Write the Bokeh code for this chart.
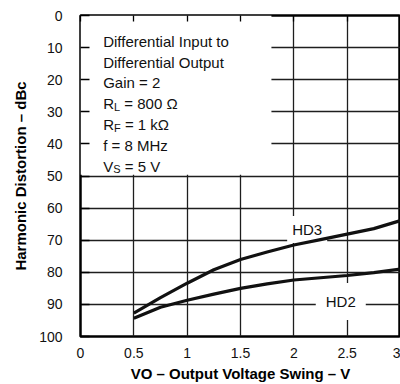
from bokeh.plotting import figure
from bokeh.models import Range1d, FixedTicker, LinearAxis, Label, BoxAnnotation
from bokeh.embed import file_html
from bokeh.resources import INLINE

# ---- data ----
vo = [0.5, 0.75, 1.0, 1.25, 1.5, 1.75, 2.0, 2.25, 2.5, 2.75, 3.0]
hd3 = [92.7, 87.9, 83.4, 79.2, 76.0, 73.7, 71.5, 69.8, 68.1, 66.4, 63.9]
hd2 = [94.3, 90.9, 88.7, 86.8, 85.0, 83.6, 82.4, 81.7, 81.0, 80.1, 79.0]

x_ticks = [0, 0.5, 1, 1.5, 2, 2.5, 3]
x_tick_labels = ["0", "0.5", "1", "1.5", "2", "2.5", "3"]
y_ticks = [0, 10, 20, 30, 40, 50, 60, 70, 80, 90, 100]
y_tick_labels = ["0", "10", "20", "30", "40", "50", "60", "70", "80", "90", "100"]

# condition box lines: (main, subscript, rest)
box_lines = [
    ("Differential Input to", "", ""),
    ("Differential Output", "", ""),
    ("Gain = 2", "", ""),
    ("R", "L", "= 800 \u03a9"),
    ("R", "F", "= 1 k\u03a9"),
    ("f = 8 MHz", "", ""),
    ("V", "S", "= 5 V"),
]
series_labels = ["HD3", "HD2"]
y_title = "Harmonic Distortion \u2013 dBc"
x_title = "VO \u2013 Output Voltage Swing \u2013 V"

FONT = "Liberation Sans"
INK = "#111111"

p = figure(width=400, height=384, output_backend="svg", toolbar_location=None,
           x_range=Range1d(0, 3), y_range=Range1d(100, 0),
           min_border_left=80, min_border_right=0, min_border_top=15, min_border_bottom=48)
p.background_fill_color = "white"
p.border_fill_color = "white"
p.outline_line_color = "black"
p.outline_line_width = 2.5

# axes
xa = p.xaxis[0]
xa.ticker = FixedTicker(ticks=x_ticks)
xa.major_label_overrides = {t: l for t, l in zip(x_ticks, x_tick_labels)}
ya = p.yaxis[0]
ya.ticker = FixedTicker(ticks=y_ticks)
ya.major_label_overrides = {t: l for t, l in zip(y_ticks, y_tick_labels)}
for ax in (xa, ya):
    ax.axis_line_color = None
    ax.major_tick_out = 0
    ax.minor_tick_line_color = None
    ax.major_label_text_font = FONT
    ax.major_label_text_font_size = "14px"
    ax.major_label_text_color = INK
    ax.major_tick_line_color = "black"
    ax.major_tick_line_width = 1.3
    ax.axis_label_text_font = FONT
    ax.axis_label_text_font_style = "bold"
    ax.axis_label_text_font_size = "15px"
    ax.axis_label_text_color = "black"
xa.major_tick_in = 0
xa.major_label_standoff = 11
xa.axis_label = x_title
xa.axis_label_standoff = 4
ya.major_tick_in = 9
ya.major_label_standoff = 18
ya.axis_label = y_title
ya.axis_label_standoff = 7

top = LinearAxis(ticker=FixedTicker(ticks=x_ticks), axis_line_color=None,
                 major_tick_in=6, major_tick_out=0, minor_tick_line_color=None,
                 major_label_text_font_size="0px", major_label_text_color=None,
                 major_label_standoff=0,
                 major_tick_line_color="black", major_tick_line_width=1.3)
p.add_layout(top, "above")

p.xgrid[0].ticker = FixedTicker(ticks=x_ticks)
p.ygrid[0].ticker = FixedTicker(ticks=y_ticks)
for g in (p.xgrid[0], p.ygrid[0]):
    g.grid_line_color = "#1e1e1e"
    g.grid_line_width = 1.3

# white condition box covering the grid
box = BoxAnnotation(left=0, right=1.79, top=0, bottom=49.6, fill_color="white",
                    fill_alpha=1.0, line_color=None, level="underlay")
p.add_layout(box)

# series labels with white backgrounds (under the curves)
p.add_layout(Label(x=2.125, y=66.7, text=series_labels[0], text_font=FONT, text_font_size="15px",
                   text_align="center", text_baseline="alphabetic", text_color=INK,
                   background_fill_color="white", padding=5, level="underlay"))
p.add_layout(Label(x=2.44, y=89.1, text=series_labels[1], text_font=FONT, text_font_size="15px",
                   text_align="center", text_baseline="alphabetic", text_color=INK,
                   background_fill_color="white", padding=10, level="underlay"))

# curves
p.line(vo, hd3, line_color=INK, line_width=3.2)
p.line(vo, hd2, line_color=INK, line_width=3.2)

# condition texts
main_w = {"R": 10.8, "V": 10.0}
sub_w = {"L": 6.1, "F": 6.7, "S": 7.3}
SPACE = 4.2
for i, (m, s, r) in enumerate(box_lines):
    yo = -(25.7 + 20.83 * i)
    p.add_layout(Label(x=0, y=0, x_offset=22.7, y_offset=yo, text=m, text_font=FONT,
                       text_font_size="15px", text_baseline="alphabetic", text_color=INK))
    if s:
        xo = 22.7 + main_w[m]
        p.add_layout(Label(x=0, y=0, x_offset=xo, y_offset=yo - 3, text=s, text_font=FONT,
                           text_font_size="11px", text_baseline="alphabetic", text_color=INK))
        p.add_layout(Label(x=0, y=0, x_offset=xo + sub_w[s] + SPACE, y_offset=yo, text=r,
                           text_font=FONT, text_font_size="15px", text_baseline="alphabetic",
                           text_color=INK))

open("out.html", "w").write(file_html(p, INLINE))
